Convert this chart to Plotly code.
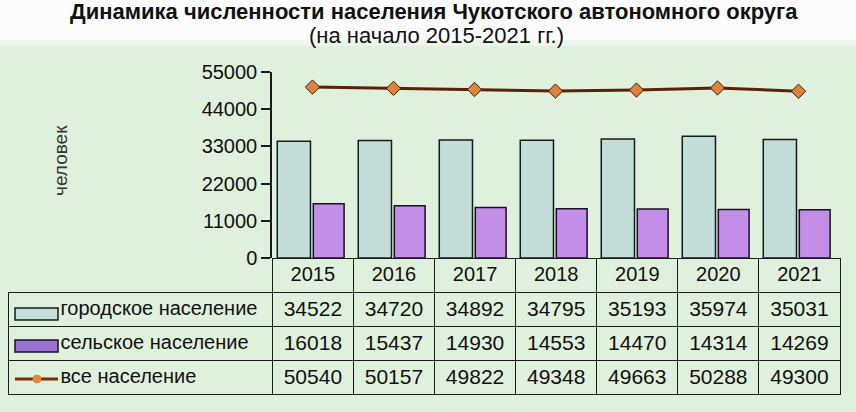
import plotly.graph_objects as go

years = ["2015", "2016", "2017", "2018", "2019", "2020", "2021"]
urban = [34522, 34720, 34892, 34795, 35193, 35974, 35031]
rural = [16018, 15437, 14930, 14553, 14470, 14314, 14269]
total = [50540, 50157, 49822, 49348, 49663, 50288, 49300]

series_names = ["городское население", "сельское население", "все население"]
y_ticks = [0, 11000, 22000, 33000, 44000, 55000]

W, H = 856, 412
BG = "#dff0dc"
DARK = "#1a1a1a"
FONT = "Liberation Sans"


def px_x(x):
    return x / W


def px_y(y):
    return (H - y) / H


fig = go.Figure()

# bars (pair sits a bit left of the category centre, as in the source)
fig.add_trace(go.Bar(
    x=years, y=urban, name=series_names[0],
    offset=-0.435, width=0.41,
    marker=dict(color="#c4ddd9", line=dict(color="#0f1e1e", width=1.5)),
))
fig.add_trace(go.Bar(
    x=years, y=rural, name=series_names[1],
    offset=0.01, width=0.38,
    marker=dict(color="#c48ee8", line=dict(color="#1a0f24", width=1.5)),
))

# total line
fig.add_trace(go.Scatter(
    x=years, y=total, name=series_names[2], mode="lines+markers",
    line=dict(color="#5a200a", width=3),
    marker=dict(symbol="diamond", size=11, color="#dc843c",
                line=dict(color="#3a1a05", width=1)),
))

# data table under the chart
pad = "\u00a0" * 8
fig.add_trace(go.Table(
    domain=dict(x=[px_x(8), px_x(840)], y=[px_y(395), px_y(258)]),
    columnwidth=[264] + [81] * len(years),
    header=dict(
        values=[""] + years,
        height=34,
        fill_color=["rgba(0,0,0,0)"] + [BG] * len(years),
        line=dict(color=["rgba(0,0,0,0)"] + [DARK] * len(years), width=1),
        font=dict(family=FONT, size=20, color="#111"),
        align="center",
    ),
    cells=dict(
        values=[[pad + s for s in series_names]]
        + [[u, r, t] for u, r, t in zip(urban, rural, total)],
        height=34,
        fill_color=BG,
        line=dict(color=DARK, width=1),
        font=dict(family=FONT, size=[20] + [21] * len(years), color="#111"),
        align=["left"] + ["center"] * len(years),
    ),
))

shapes = [
    # white band behind the title
    dict(type="rect", xref="paper", yref="paper", x0=0, x1=1,
         y0=px_y(40), y1=1, fillcolor="#fbfcfb", line_width=0, layer="below"),
    dict(type="rect", xref="paper", yref="paper", x0=0, x1=1,
         y0=px_y(46), y1=px_y(40), fillcolor="#eef6ec", line_width=0, layer="below"),
    # legend keys inside the table
    dict(type="rect", xref="paper", yref="paper",
         x0=px_x(15), x1=px_x(58), y0=px_y(320), y1=px_y(308),
         fillcolor="#c4ddd9", line=dict(color="#0f1e1e", width=1.5)),
    dict(type="rect", xref="paper", yref="paper",
         x0=px_x(15), x1=px_x(58), y0=px_y(352), y1=px_y(340),
         fillcolor="#9a72d4", line=dict(color="#1a0f24", width=1.5)),
    dict(type="line", xref="paper", yref="paper",
         x0=px_x(15), x1=px_x(58), y0=px_y(379), y1=px_y(379),
         line=dict(color="#7a2e0c", width=3)),
    dict(type="circle", xref="paper", yref="paper",
         x0=px_x(33), x1=px_x(41), y0=px_y(383), y1=px_y(375),
         fillcolor="#e08a40", line=dict(color="#e08a40", width=1)),
]

annotations = [
    dict(text="<b>Динамика численности населения Чукотского автономного округа</b>",
         xref="paper", yref="paper", x=px_x(434), y=px_y(12),
         xanchor="center", yanchor="middle",
         showarrow=False, font=dict(family=FONT, size=22, color="#111")),
    dict(text="(на начало 2015-2021 гг.)",
         xref="paper", yref="paper", x=px_x(436), y=px_y(36),
         xanchor="center", yanchor="middle",
         showarrow=False, font=dict(family=FONT, size=22, color="#111")),
    dict(text="человек", textangle=-90,
         xref="paper", yref="paper", x=px_x(60), y=px_y(160),
         xanchor="center", yanchor="middle",
         showarrow=False, font=dict(family=FONT, size=19, color="#333")),
]

fig.update_layout(
    width=W, height=H,
    margin=dict(l=0, r=0, t=0, b=0, pad=0, autoexpand=False),
    paper_bgcolor=BG,
    plot_bgcolor="rgba(0,0,0,0)",
    showlegend=False,
    barmode="group",
    shapes=shapes,
    annotations=annotations,
    xaxis=dict(domain=[px_x(272), px_x(839)], visible=False, automargin=False),
    yaxis=dict(
        domain=[px_y(258), px_y(72)], range=[0, 55000], automargin=False,
        tickvals=y_ticks, ticktext=[str(v) for v in y_ticks],
        showgrid=False, zeroline=False,
        showline=True, linecolor=DARK, linewidth=1.5,
        ticks="outside", ticklen=9, tickcolor=DARK, tickwidth=1.5,
        tickfont=dict(family=FONT, size=20, color="#111"),
    ),
)

# the page body has a default 8px margin; drop it so the figure fills the window
fig.write_html("out.html", config={"displayModeBar": False},
               post_script="document.body.style.margin = '0';")
